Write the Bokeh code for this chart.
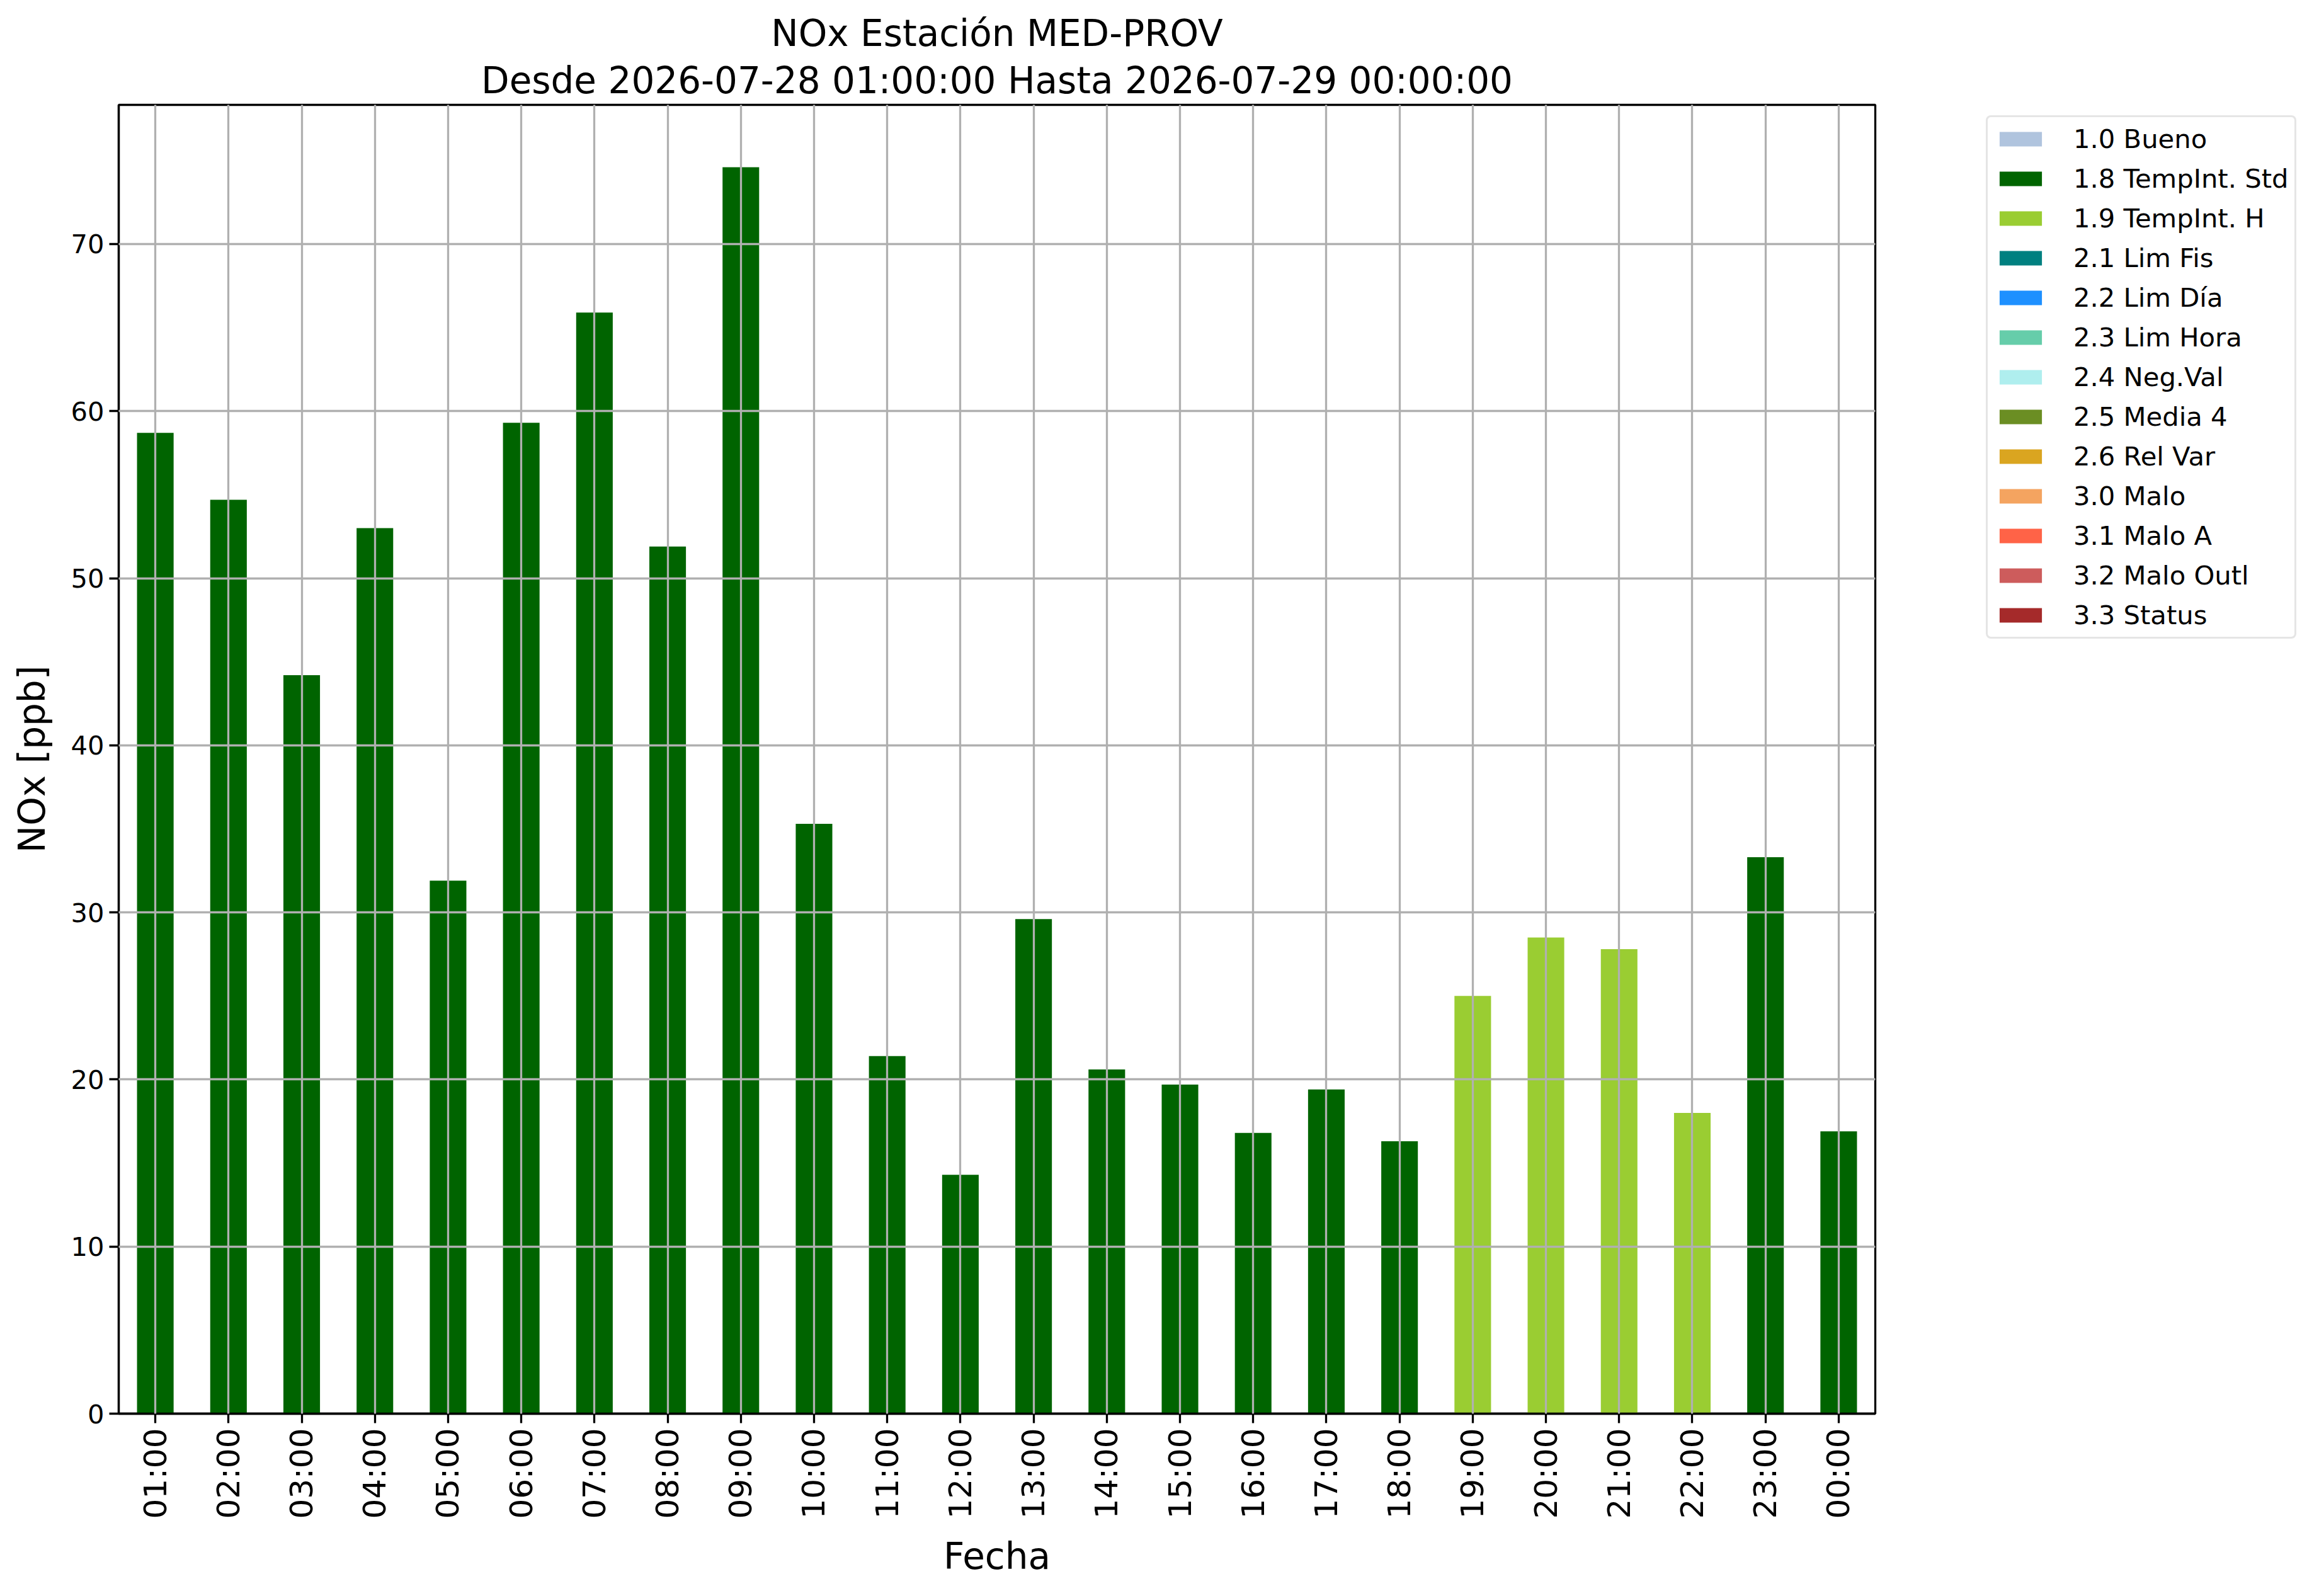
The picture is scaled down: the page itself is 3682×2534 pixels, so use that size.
import math
from bokeh.plotting import figure
from bokeh.layouts import row
from bokeh.models import Range1d, FactorRange, Legend, LegendItem, Title, FixedTicker, ColumnDataSource
from bokeh.embed import file_html
from bokeh.resources import INLINE

hours = ["01:00", "02:00", "03:00", "04:00", "05:00", "06:00", "07:00", "08:00",
         "09:00", "10:00", "11:00", "12:00", "13:00", "14:00", "15:00", "16:00",
         "17:00", "18:00", "19:00", "20:00", "21:00", "22:00", "23:00", "00:00"]
nox = [58.7, 54.7, 44.2, 53.0, 31.9, 59.3, 65.9, 51.9, 74.6, 35.3, 21.4, 14.3,
       29.6, 20.6, 19.7, 16.8, 19.4, 16.3, 25.0, 28.5, 27.8, 18.0, 33.3, 16.9]
flags = ["1.8", "1.8", "1.8", "1.8", "1.8", "1.8", "1.8", "1.8", "1.8", "1.8", "1.8", "1.8",
         "1.8", "1.8", "1.8", "1.8", "1.8", "1.8", "1.9", "1.9", "1.9", "1.9", "1.8", "1.8"]

flag_codes = ["1.0", "1.8", "1.9", "2.1", "2.2", "2.3", "2.4", "2.5", "2.6", "3.0", "3.1", "3.2", "3.3"]
flag_names = ["1.0 Bueno", "1.8 TempInt. Std", "1.9 TempInt. H", "2.1 Lim Fis", "2.2 Lim Día",
              "2.3 Lim Hora", "2.4 Neg.Val", "2.5 Media 4", "2.6 Rel Var", "3.0 Malo",
              "3.1 Malo A", "3.2 Malo Outl", "3.3 Status"]
flag_colors = ["#B0C4DE", "#006400", "#9ACD32", "#008080", "#1E90FF", "#66CDAA", "#AFEEEE",
               "#6B8E23", "#DAA520", "#F4A460", "#FF6347", "#CD5C5C", "#A52A2A"]

y_ticks = [0, 10, 20, 30, 40, 50, 60, 70]
title_line1 = "NOx Estación MED-PROV"
title_line2 = "Desde 2026-07-28 01:00:00 Hasta 2026-07-29 00:00:00"

data = {"hour": hours}
for code in flag_codes:
    data[code] = [v if f == code else 0.0 for v, f in zip(nox, flags)]
source = ColumnDataSource(data)

FONT = "DejaVu Sans"
TOTAL_W, TOTAL_H = 3666, 2518
MAIN_W = 2981

p = figure(width=MAIN_W, height=TOTAL_H, x_range=FactorRange(factors=hours),
           y_range=Range1d(0, max(nox) * 1.05), title=None,
           output_backend="svg", toolbar_location=None,
           min_border_left=188, min_border_right=4, min_border_top=166, min_border_bottom=274)

renderers = p.vbar_stack(flag_codes, x="hour", width=0.5, source=source,
                         fill_color=flag_colors, line_color=None)

t2 = Title(text=title_line2, align="center", text_font=FONT, text_font_size="58px",
           text_font_style="normal", text_color="black", standoff=10, text_line_height=1.0)
t1 = Title(text=title_line1, align="center", text_font=FONT, text_font_size="58px",
           text_font_style="normal", text_color="black", standoff=0, text_line_height=1.35)
p.add_layout(t2, "above")
p.add_layout(t1, "above")

# frame
p.outline_line_color = "black"
p.outline_line_width = 3.3
p.background_fill_color = "white"
p.border_fill_color = "white"

# grids above bars
for g in (p.xgrid, p.ygrid):
    g.grid_line_color = "#b0b0b0"
    g.grid_line_width = 3.3
    g.level = "overlay"
p.ygrid.ticker = FixedTicker(ticks=y_ticks)

# axes
p.yaxis.ticker = FixedTicker(ticks=y_ticks)
for ax in (p.xaxis, p.yaxis):
    ax.axis_line_color = "black"
    ax.axis_line_width = 3.3
    ax.major_tick_line_width = 3.3
    ax.major_tick_line_color = "black"
    ax.major_tick_out = 15
    ax.major_tick_in = 0
    ax.minor_tick_line_color = None
    ax.major_label_text_font = FONT
    ax.major_label_text_color = "black"
    ax.axis_label_text_font = FONT
    ax.axis_label_text_font_style = "normal"
    ax.axis_label_text_font_size = "58px"
    ax.axis_label_text_color = "black"
    ax.major_label_standoff = 8

p.xaxis.major_label_text_font_size = "50px"
p.xaxis.major_label_orientation = math.pi / 2
p.xaxis.axis_label = "Fecha"
p.xaxis.axis_label_standoff = 22
p.yaxis.major_label_text_font_size = "41.7px"
p.yaxis.axis_label = "NOx [ppb]"
p.yaxis.axis_label_standoff = 24

# legend panel (separate, frameless figure to the right; its frame aligns with the main frame)
LEG_W = TOTAL_W - MAIN_W
p2 = figure(width=LEG_W, height=TOTAL_H, x_range=Range1d(0, 1),
            y_range=Range1d(1, 2), title=None, output_backend="svg", toolbar_location=None,
            x_axis_location=None, y_axis_location=None,
            min_border_left=0, min_border_right=0, min_border_top=0, min_border_bottom=0)
p2.outline_line_color = None
p2.grid.visible = False
p2.background_fill_color = "white"
p2.border_fill_color = "white"
swatch_src = ColumnDataSource({"xpos": [0.5], **{c: [0.0] for c in flag_codes}})
leg_renderers = p2.vbar_stack(flag_codes, x="xpos", width=0.0, source=swatch_src,
                              fill_color=flag_colors, line_color=None)

legend_kwargs = dict(
    items=[LegendItem(label=n, renderers=[r]) for n, r in zip(flag_names, leg_renderers)],
    location=(172, 1230), orientation="vertical",
    label_text_font=FONT, label_text_font_size="41.7px", label_text_color="black",
    glyph_width=84, glyph_height=29, label_height=42, spacing=14,
    padding=10, label_standoff=42, margin=0,
    border_line_color="#cccccc", border_line_width=3.5,
    background_fill_color="white", background_fill_alpha=0.8)
if "border_radius" in Legend.properties():
    legend_kwargs["border_radius"] = 8
legend = Legend(**legend_kwargs)
p2.add_layout(legend, "center")

layout = row(p, p2)
open("out.html", "w").write(file_html(layout, INLINE))
